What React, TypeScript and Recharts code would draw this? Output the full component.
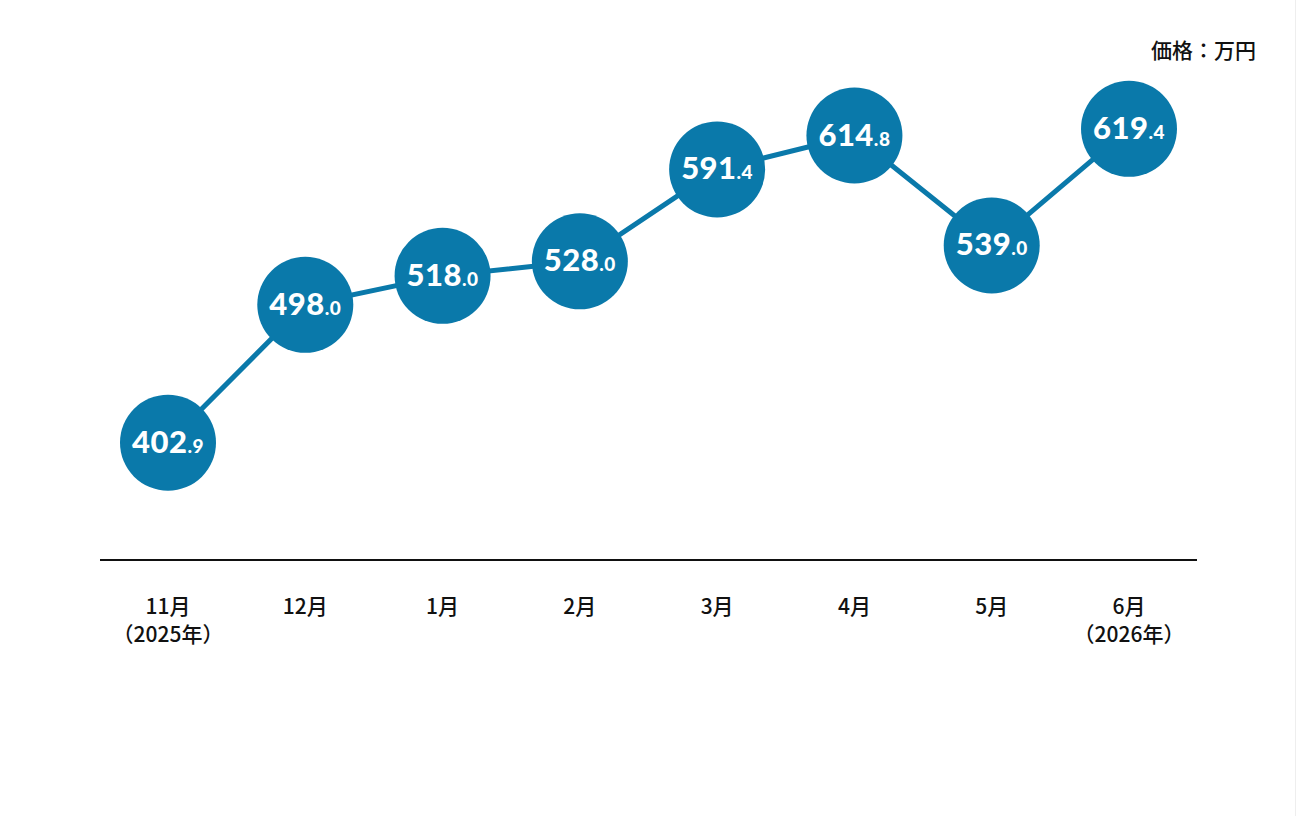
import React from "react";
import { LineChart, Line, XAxis, YAxis } from "recharts";

const months = ["11月", "12月", "1月", "2月", "3月", "4月", "5月", "6月"];
const years = ["（2025年）", "", "", "", "", "", "", "（2026年）"];
const prices = [402.9, 498.0, 518.0, 528.0, 591.4, 614.8, 539.0, 619.4];

const data = months.map((m, i) => ({ month: m, year: years[i], price: prices[i] }));

const BLUE = "#0a79aa";
const JP = "'Noto Sans CJK JP', 'Noto Sans', sans-serif";

const Dot = (props: any) => {
  const { cx, cy, payload } = props;
  if (cx == null || cy == null) return null;
  const v: number = payload.price;
  const [intPart, decPart] = v.toFixed(1).split(".");
  return (
    <g>
      <circle cx={cx} cy={cy} r={48} fill={BLUE} />
      <text
        x={cx}
        y={cy + 10}
        textAnchor="middle"
        fill="#ffffff"
        fontFamily="Lato, 'Open Sans', sans-serif"
        fontWeight={900}
        letterSpacing={0.5}
      >
        <tspan fontSize={31}>{intPart}</tspan>
        <tspan fontSize={19}>.{decPart}</tspan>
      </text>
    </g>
  );
};

const Tick = (props: any) => {
  const { x, y, payload, index } = props;
  const yr = years[index];
  return (
    <g>
      <text x={x} y={y + 46} textAnchor="middle" fill="#111" fontSize={21} fontWeight={500} fontFamily={JP}>
        {payload.value}
      </text>
      {yr ? (
        <text x={x} y={y + 74} textAnchor="middle" fill="#111" fontSize={21} fontWeight={500} fontFamily={JP}>
          {yr}
        </text>
      ) : null}
    </g>
  );
};

export default function App() {
  return (
    <div style={{ position: "fixed", left: 0, top: 0, width: 1297, height: 816, background: "#fff" }}>
      <LineChart
        width={1297}
        height={816}
        data={data}
        margin={{ top: 41, right: 100, bottom: 196, left: 100 }}
      >
        <XAxis
          dataKey="month"
          padding={{ left: 68, right: 68 }}
          axisLine={{ stroke: "#111", strokeWidth: 2 }}
          tickLine={false}
          tick={<Tick />}
          height={60}
          interval={0}
        />
        <YAxis hide domain={[322, 680]} />
        <Line
          type="linear"
          dataKey="price"
          stroke={BLUE}
          strokeWidth={5}
          dot={<Dot />}
          activeDot={false}
          isAnimationActive={false}
        />
        <text x={1256} y={58} textAnchor="end" fill="#111" fontSize={21} fontWeight={500} fontFamily={JP}>
          価格：万円
        </text>
      </LineChart>
      <div style={{ position: "absolute", right: 1, top: 0, width: 1, height: 816, background: "#eee" }} />
    </div>
  );
}
